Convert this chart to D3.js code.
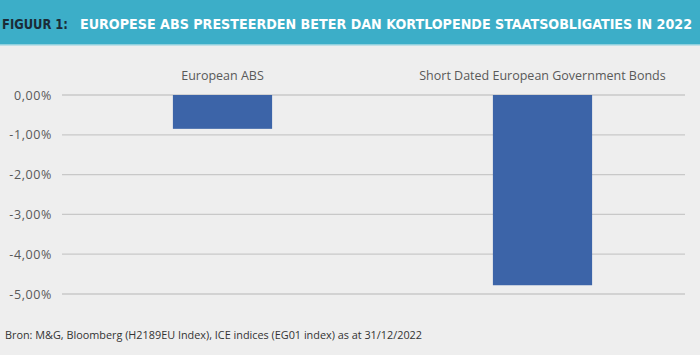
<!DOCTYPE html>
<html><head><meta charset="utf-8">
<script src="https://cdn.jsdelivr.net/npm/d3@7"></script>
<style>body{margin:0;background:#eeeeee}svg{display:block}</style>
</head><body>
<svg id="c" width="700" height="355"></svg>
<script>
const categories = ["European ABS", "Short Dated European Government Bonds"];
const values = [-0.85, -4.78];
const yTicks = [0, -1, -2, -3, -4, -5];
const titleLead = "FIGUUR 1:";
const titleText = "EUROPESE ABS PRESTEERDEN BETER DAN KORTLOPENDE STAATSOBLIGATIES IN 2022";
const source = "Bron: M&G, Bloomberg (H2189EU Index), ICE indices (EG01 index) as at 31/12/2022";

const svg = d3.select("#c");
svg.append("rect").attr("width",700).attr("height",355).attr("fill","#eeeeee");
svg.append("rect").attr("width",700).attr("height",44).attr("fill","#3caec8");
svg.append("rect").attr("y",44).attr("width",700).attr("height",1.5).attr("fill","#8fd0de");

const tf = "'DejaVu Sans Condensed','DejaVu Sans',sans-serif";
svg.append("text").attr("x",2).attr("y",28.5).attr("font-family",tf).attr("font-weight","bold")
  .attr("font-size",14).attr("fill","#1b2b36").attr("textLength",66).attr("lengthAdjust","spacingAndGlyphs").text(titleLead);
svg.append("text").attr("x",80).attr("y",28.5).attr("font-family",tf).attr("font-weight","bold")
  .attr("font-size",14).attr("fill","#ffffff").attr("textLength",612).attr("lengthAdjust","spacingAndGlyphs").text(titleText);

const y = d3.scaleLinear().domain([-5,0]).range([294,95]);
const x = d3.scaleBand().domain(categories).range([62.5,702.5]).paddingInner(0.69).paddingOuter(0.345);

const grid = svg.append("g");
grid.selectAll("line").data(yTicks).join("line")
  .attr("x1",62).attr("x2",685).attr("y1",d=>y(d)).attr("y2",d=>y(d))
  .attr("stroke","#c8c8c8").attr("stroke-width",1.3);

const fmt = d => d3.format(".2f")(d).replace(".",",").replace("−","-") + "%";
const axis = d3.axisLeft(y).tickValues(yTicks).tickSize(0).tickPadding(0).tickFormat(fmt);
const ag = svg.append("g").attr("transform","translate(52,0)").call(axis);
ag.select(".domain").remove();
ag.selectAll("text").attr("font-family","'Open Sans',sans-serif").attr("font-size",12.5)
  .attr("letter-spacing",0.6).attr("fill","#595959");

svg.append("g").selectAll("text").data(categories).join("text")
  .attr("x",d=>x(d)+x.bandwidth()/2).attr("y",80).attr("text-anchor","middle")
  .attr("font-family","'Open Sans',sans-serif").attr("font-size",12.5).attr("fill","#595959").text(d=>d);

svg.append("g").selectAll("rect").data(categories).join("rect")
  .attr("x",d=>x(d)).attr("width",x.bandwidth())
  .attr("y",(d,i)=>y(Math.max(0,values[i]))).attr("height",(d,i)=>Math.abs(y(values[i])-y(0)))
  .attr("fill","#3c64a8");

svg.append("text").attr("x",5).attr("y",339).attr("font-family","'Open Sans',sans-serif")
  .attr("font-size",10.5).attr("fill","#333333").attr("textLength",417).attr("lengthAdjust","spacingAndGlyphs").text(source);
</script>
</body></html>
